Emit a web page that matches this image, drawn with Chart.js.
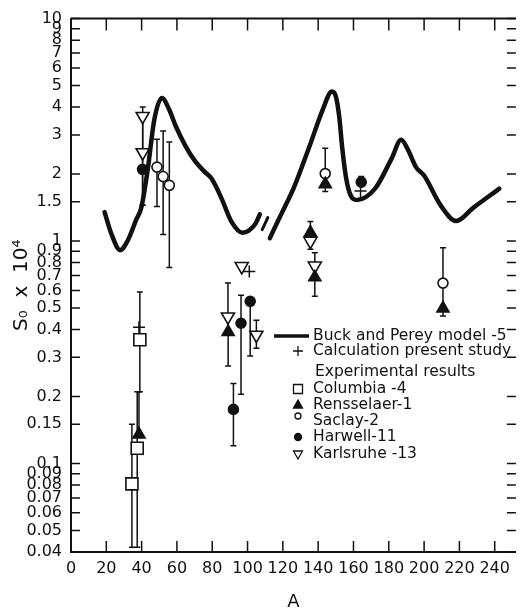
<!DOCTYPE html>
<html>
<head>
<meta charset="utf-8">
<script src="https://cdn.jsdelivr.net/npm/chart.js@4.4.1/dist/chart.umd.min.js"></script>
<style>
  body { margin: 0; background: #fff; }
  canvas { display: block; }
</style>
</head>
<body>
<canvas id="chart_s0" width="526" height="613"></canvas>
<script>
var ink = '#111';
var font_family = '"DejaVu Sans", sans-serif';

var x_ticks = [0, 20, 40, 60, 80, 100, 120, 140, 160, 180, 200, 220, 240];
var y_ticks = [0.04, 0.05, 0.06, 0.07, 0.08, 0.09, 0.1, 0.15, 0.2, 0.3, 0.4, 0.5, 0.6, 0.7, 0.8, 0.9,
               1, 1.5, 2, 3, 4, 5, 6, 7, 8, 9, 10];

// Buck and Perey model, two pieces either side of the break
var model_a1 = [19, 23, 27.8, 32, 37, 39.8, 43.5, 47.2, 51.5, 55.6, 59.3, 64.8, 70.4, 75.9, 79.6, 85.2, 90.7, 97.2, 100.5, 104.6, 107];
var model_s1 = [1.35, 1.07, 0.91, 1.0, 1.25, 1.41, 2.11, 3.52, 4.4, 3.9, 3.29, 2.68, 2.28, 2.04, 1.91, 1.56, 1.23, 1.09, 1.11, 1.2, 1.32];
var model_a2 = [112.6, 117, 121, 126, 135.2, 142.6, 147.8, 150, 151.9, 153.7, 155.6, 158.3, 162, 172.2, 181.5, 187, 190.7, 195.4, 200, 209.3, 218.1, 227.8, 242.6];
var model_s2 = [1.03, 1.22, 1.42, 1.72, 2.68, 3.9, 4.7, 4.47, 3.64, 2.59, 1.97, 1.61, 1.53, 1.72, 2.34, 2.85, 2.59, 2.15, 1.97, 1.45, 1.23, 1.41, 1.72];
var break_a = [108.3, 111.5];
var break_s = [1.125, 1.276];

// calculation, present study
var calc_a = [38.5, 101, 164];
var calc_s = [0.41, 0.73, 1.68];

// experimental results (value, lower and upper end of the error bar)
var columbia_a = [34.5, 37.5, 39];
var columbia_s = [0.081, 0.117, 0.36];
var columbia_lo = [0.042, 0.042, 0.21];
var columbia_hi = [0.15, 0.21, 0.59];

var rensselaer_a = [38.5, 89, 135.6, 138.1, 144, 210.7];
var rensselaer_s = [0.135, 0.39, 1.09, 0.687, 1.80, 0.498];
var rensselaer_lo = [0.135, 0.274, null, 0.564, 1.67, 0.46];
var rensselaer_hi = [0.21, null, 1.225, null, null, null];

var saclay_a = [48.7, 52.2, 55.7, 144, 210.7];
var saclay_s = [2.15, 1.95, 1.78, 2.01, 0.647];
var saclay_lo = [1.43, 1.07, 0.76, 1.80, 0.498];
var saclay_hi = [2.87, 3.12, 2.79, 2.61, 0.934];

var harwell_a = [40.5, 92, 96.3, 101.5, 164.4];
var harwell_s = [2.1, 0.175, 0.427, 0.536, 1.84];
var harwell_lo = [1.45, 0.12, 0.205, 0.304, null];
var harwell_hi = [2.5, 0.229, 0.57, null, 1.95];

var karlsruhe_a = [40.6, 40.6, 88.9, 96.7, 105, 135.6, 138.1];
var karlsruhe_s = [3.64, 2.5, 0.457, 0.77, 0.378, 1.0, 0.774];
var karlsruhe_lo = [2.5, 1.45, 0.39, null, 0.33, 0.918, 0.687];
var karlsruhe_hi = [4.0, 3.64, 0.647, null, 0.44, 1.09, 0.885];

function pts(a, s) {
  var out = [];
  for (var i = 0; i < a.length; i++) out.push({x: a[i], y: s[i]});
  return out;
}

function line_set(a, s, w) {
  return {
    data: pts(a, s), showLine: true, borderColor: ink, borderWidth: w,
    pointRadius: 0, cubicInterpolationMode: 'monotone', borderCapStyle: 'round', order: 2
  };
}

function marker_set(a, s, lo, hi, style, radius, fill, rot) {
  return {
    data: pts(a, s), showLine: false, pointStyle: style, pointRadius: radius,
    pointRotation: rot || 0, pointBackgroundColor: fill, pointBorderColor: ink,
    pointBorderWidth: 1.6, err_lo: lo, err_hi: hi, order: 1
  };
}

// vertical error bars with small caps, placed through the chart scales
var error_bars = {
  id: 'error_bars',
  beforeDatasetsDraw: function (chart) {
    var ctx = chart.ctx, xs = chart.scales.x, ys = chart.scales.y;
    ctx.save();
    ctx.strokeStyle = ink;
    ctx.lineWidth = 1.5;
    chart.data.datasets.forEach(function (ds) {
      if (!ds.err_lo) return;
      ds.data.forEach(function (p, i) {
        var px = xs.getPixelForValue(p.x);
        var lo = ds.err_lo[i], hi = ds.err_hi[i];
        var y0 = ys.getPixelForValue(lo == null ? p.y : lo);
        var y1 = ys.getPixelForValue(hi == null ? p.y : hi);
        ctx.beginPath();
        ctx.moveTo(px, y0); ctx.lineTo(px, y1);
        if (lo != null) { ctx.moveTo(px - 3, y0); ctx.lineTo(px + 3, y0); }
        if (hi != null) { ctx.moveTo(px - 3, y1); ctx.lineTo(px + 3, y1); }
        ctx.stroke();
      });
    });
    ctx.restore();
  }
};

// top border and inward tick marks on all four sides
var frame = {
  id: 'frame',
  afterDraw: function (chart) {
    var ctx = chart.ctx, a = chart.chartArea, xs = chart.scales.x, ys = chart.scales.y;
    ctx.save();
    ctx.strokeStyle = ink;
    ctx.lineWidth = 2;
    ctx.beginPath();
    ctx.moveTo(a.left, a.top); ctx.lineTo(a.right, a.top);
    ctx.stroke();
    ctx.lineWidth = 1.5;
    ctx.beginPath();
    x_ticks.forEach(function (v) {
      if (v === 0) return;
      var px = xs.getPixelForValue(v);
      ctx.moveTo(px, a.bottom); ctx.lineTo(px, a.bottom - 11);
      ctx.moveTo(px, a.top); ctx.lineTo(px, a.top + 12);
    });
    y_ticks.forEach(function (v) {
      var py = ys.getPixelForValue(v);
      ctx.moveTo(a.left, py); ctx.lineTo(a.left + 9, py);
      ctx.moveTo(a.right - 9, py); ctx.lineTo(a.right, py);
    });
    ctx.stroke();
    ctx.restore();
  }
};

function draw_mark(ctx, kind, x, y, r) {
  ctx.beginPath();
  if (kind === 'rect') {
    ctx.rect(x - r, y - r, 2 * r, 2 * r);
    ctx.fillStyle = '#fff'; ctx.fill(); ctx.stroke();
  } else if (kind === 'tri_up' || kind === 'tri_down') {
    var d = kind === 'tri_up' ? 1 : -1;
    ctx.moveTo(x, y - d * r);
    ctx.lineTo(x + r * 0.9, y + d * r * 0.6);
    ctx.lineTo(x - r * 0.9, y + d * r * 0.6);
    ctx.closePath();
    ctx.fillStyle = kind === 'tri_up' ? ink : '#fff';
    ctx.fill(); ctx.stroke();
  } else if (kind === 'circle' || kind === 'dot') {
    ctx.arc(x, y, r, 0, Math.PI * 2);
    ctx.fillStyle = kind === 'dot' ? ink : '#fff';
    ctx.fill(); ctx.stroke();
  } else if (kind === 'cross') {
    ctx.moveTo(x - r, y); ctx.lineTo(x + r, y);
    ctx.moveTo(x, y - r); ctx.lineTo(x, y + r);
    ctx.stroke();
  }
}

var legend_rows = [
  {kind: 'line', text: 'Buck and Perey model -5', y: 336},
  {kind: 'cross', text: 'Calculation present study', y: 351},
  {kind: null, text: 'Experimental results', y: 372},
  {kind: 'rect', text: 'Columbia -4', y: 389},
  {kind: 'tri_up', text: 'Rensselaer-1', y: 405},
  {kind: 'circle', text: 'Saclay-2', y: 421},
  {kind: 'dot', text: 'Harwell-11', y: 437},
  {kind: 'tri_down', text: 'Karlsruhe -13', y: 454}
];

var legend_box = {
  id: 'legend_box',
  afterDraw: function (chart) {
    var ctx = chart.ctx;
    ctx.save();
    ctx.font = '15.5px ' + font_family;
    ctx.textBaseline = 'middle';
    ctx.strokeStyle = ink;
    ctx.fillStyle = ink;
    legend_rows.forEach(function (row) {
      var tx = row.kind === null ? 315 : 313;
      if (row.kind === 'line') {
        ctx.lineWidth = 3.5;
        ctx.beginPath(); ctx.moveTo(274, row.y); ctx.lineTo(309, row.y); ctx.stroke();
      } else if (row.kind) {
        ctx.lineWidth = 1.3;
        var r = row.kind === 'circle' ? 3 : row.kind === 'dot' ? 3.5 : row.kind === 'rect' ? 4.5 : 5;
        var my = row.kind === 'circle' ? row.y - 5 : row.y;
        draw_mark(ctx, row.kind, 298, my, r);
      }
      ctx.fillStyle = ink;
      ctx.fillText(row.text, tx, row.y);
    });
    ctx.restore();
  }
};

var ctx = document.getElementById('chart_s0').getContext('2d');
var chart = new Chart(ctx, {
  type: 'scatter',
  data: {
    datasets: [
      line_set(model_a1, model_s1, 4.5),
      line_set(model_a2, model_s2, 4.5),
      line_set(break_a, break_s, 3),
      marker_set(columbia_a, columbia_s, columbia_lo, columbia_hi, 'rect', 8.5, '#fff'),
      marker_set(rensselaer_a, rensselaer_s, rensselaer_lo, rensselaer_hi, 'triangle', 7, ink),
      marker_set(saclay_a, saclay_s, saclay_lo, saclay_hi, 'circle', 5, '#fff'),
      marker_set(harwell_a, harwell_s, harwell_lo, harwell_hi, 'circle', 5, ink),
      marker_set(karlsruhe_a, karlsruhe_s, karlsruhe_lo, karlsruhe_hi, 'triangle', 7.5, '#fff', 180),
      {
        data: pts(calc_a, calc_s), showLine: false, pointStyle: 'cross', pointRadius: 6,
        pointBorderColor: ink, pointBorderWidth: 1.5, order: 0
      }
    ]
  },
  options: {
    responsive: false,
    animation: false,
    layout: {padding: {top: 11, right: 0, left: 0, bottom: 0}},
    plugins: {legend: {display: false}, tooltip: {enabled: false}},
    scales: {
      x: {
        type: 'linear', min: 0, max: 252,
        afterBuildTicks: function (scale) {
          scale.ticks = x_ticks.map(function (v) { return {value: v}; });
        },
        afterFit: function (scale) { scale.height = 61; },
        grid: {display: false, drawTicks: false},
        border: {display: true, color: ink, width: 2},
        ticks: {autoSkip: false, maxRotation: 0, padding: 7, color: ink, font: {family: font_family, size: 16}},
        title: {display: true, text: 'A', color: ink, font: {family: font_family, size: 18}, padding: {top: 6, bottom: 0}}
      },
      y: {
        type: 'logarithmic', min: 0.04, max: 10,
        afterBuildTicks: function (scale) {
          scale.ticks = y_ticks.map(function (v) { return {value: v}; });
        },
        afterFit: function (scale) { scale.width = 71; },
        grid: {display: false, drawTicks: false},
        border: {display: true, color: ink, width: 2},
        ticks: {
          autoSkip: false, padding: 9, color: ink, font: {family: font_family, size: 16},
          callback: function (v) { return String(v); }
        },
        title: {display: true, text: 'S₀  x  10⁴', color: ink, font: {family: font_family, size: 20}, padding: {top: 10, bottom: 0}}
      }
    }
  },
  plugins: [error_bars, frame, legend_box]
});
</script>
</body>
</html>
